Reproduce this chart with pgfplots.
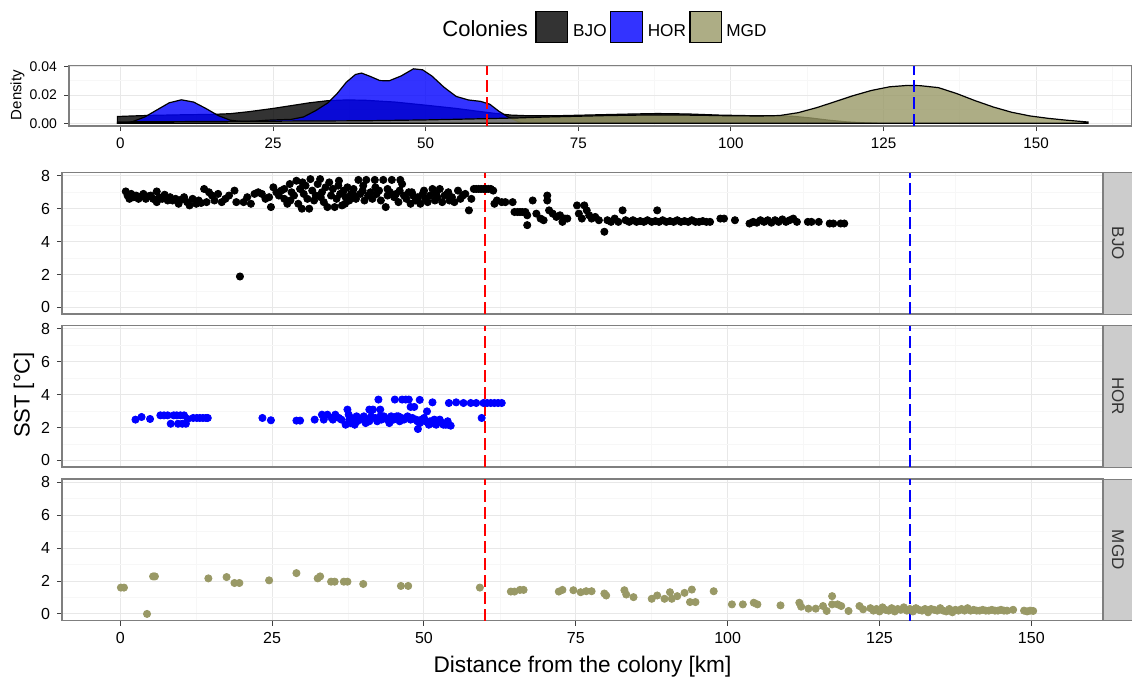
\documentclass[border=0pt]{standalone}
\usepackage{fontspec}
\setmainfont{Liberation Sans}
\usepackage{pgfplots}
\pgfplotsset{compat=1.18}
\definecolor{mgd}{RGB}{153,153,102}
\definecolor{gridmaj}{RGB}{232,232,232}
\definecolor{gridmin}{RGB}{247,247,247}
\definecolor{frame}{RGB}{127,127,127}
\definecolor{stripc}{RGB}{204,204,204}
\pgfplotsset{
  base/.style={
    scale only axis, anchor=south west,
    grid=both,
    major grid style={gridmaj, line width=0.5pt},
    minor grid style={gridmin, line width=0.4pt},
    axis line style={frame, line width=0.6pt},
    tick style={black!75, line width=0.5pt},
    tick align=outside, major tick length=2.5pt, minor tick length=0pt,
    tick pos=left,
    /pgf/number format/assume math mode=true,
  },
  facet/.style={
    base, width=520.5pt, height=70.75pt,
    xmin=-9.6, xmax=161.8, ymin=-0.4, ymax=8.2,
    xtick={0,25,...,150}, minor xtick={12.5,37.5,...,162.5},
    ytick={0,2,4,6,8}, minor ytick={1,3,5,7},
    yticklabel style={font=\fontsize{8}{9}\selectfont},
    xticklabel style={font=\fontsize{8}{9}\selectfont},
  },
  pts/.style={only marks, mark=*, mark size=1.8pt, mark options={draw=#1, fill=#1}},
  vred/.style={red, line width=0.9pt, dash pattern=on 6pt off 2.5pt},
  vblue/.style={blue, line width=0.9pt, dash pattern=on 6pt off 2.5pt},
  dens/.style={draw=black, line width=0.6pt, fill=#1, fill opacity=0.8},
}
\begin{document}
\begin{tikzpicture}
\path[use as bounding box] (0,0) rectangle (566pt,338.5pt);

% ---------------- density panel ----------------
\begin{axis}[base, at={(34.5pt,275.5pt)}, width=531.5pt, height=30.15pt,
  xmin=-8.42, xmax=165.7, ymin=-0.0019, ymax=0.0407,
  xtick={0,25,...,150}, minor xtick={12.5,37.5,...,162.5},
  ytick={0,0.02,0.04}, yticklabels={0.00,0.02,0.04}, minor ytick={0.01,0.03},
  scaled y ticks=false,
  yticklabel style={font=\fontsize{7}{8}\selectfont},
  xticklabel style={font=\fontsize{7.6}{9}\selectfont},
]
\addplot[dens=black] coordinates {(-0.5,0) (-0.5,0.0048) (2,0.0052) (5,0.0056) (10,0.006) (15,0.0063) (18,0.0068) (21,0.0082) (25,0.0105) (28,0.0125) (31,0.0145) (34,0.016) (37,0.0165) (40,0.0163) (45,0.015) (50,0.0128) (55,0.0105) (58,0.0088) (61,0.0072) (64,0.0058) (67,0.0053) (72,0.0054) (78,0.006) (84,0.0066) (88,0.0069) (93,0.0066) (98,0.0058) (103,0.0054) (107,0.0054) (110,0.005) (113,0.0038) (116,0.0022) (119,0.001) (122,0.0003) (124,0)} -- cycle;
\addplot[dens=blue] coordinates {(0.5,0) (2,0.0012) (4,0.0045) (6,0.0095) (8,0.0145) (10,0.0166) (12,0.015) (14,0.0105) (16,0.0055) (18,0.0022) (20,0.0012) (22,0.0015) (24,0.0022) (26,0.0025) (28,0.0028) (30,0.0045) (32,0.009) (34,0.0145) (35.5,0.021) (37,0.029) (38.5,0.0345) (39.5,0.0355) (41,0.033) (42.5,0.0302) (44,0.0300) (46,0.0335) (48,0.0385) (49.5,0.0378) (51,0.0335) (53,0.0255) (55,0.019) (57,0.0165) (59,0.0155) (60.5,0.0135) (62,0.0085) (63.5,0.0045) (65,0.0015) (66,0)} -- cycle;
\addplot[dens=mgd] coordinates {(-0.5,0) (-0.5,0.0008) (0,0.001) (10,0.0012) (20,0.0014) (30,0.0016) (40,0.0018) (50,0.0024) (60,0.0033) (65,0.0038) (70,0.0045) (75,0.005) (80,0.0055) (85,0.0058) (90,0.0059) (95,0.0057) (100,0.0053) (105,0.0052) (108,0.0055) (111,0.0075) (114,0.011) (117,0.0152) (120,0.0195) (123,0.0232) (126,0.0258) (129,0.0268) (131,0.0266) (134,0.0252) (137,0.021) (140,0.016) (143,0.0115) (146,0.0078) (149,0.0052) (152,0.0035) (155,0.0022) (158.5,0.0009) (158.5,0)} -- cycle;
\addplot[vred] coordinates {(60,-0.0019) (60,0.0407)};
\addplot[vblue] coordinates {(130,-0.0019) (130,0.0407)};
\end{axis}

% ---------------- BJO ----------------
\begin{axis}[facet, at={(31pt,181.5pt)}, xticklabels={}, xtick style={draw=none}]
\addplot[pts=black] coordinates {
(0.9,7.05) (1.2,6.8) (1.5,6.6) (1.8,6.9) (2.2,6.7) (2.6,6.8) (3.0,6.6) (3.4,6.75) (3.8,6.9) (4.2,6.6) (4.6,6.75) (5.0,6.8) (5.4,6.6) (6.0,7.05) (6.0,6.4) (6.4,6.7) (6.9,6.6) (7.3,6.85) (7.8,6.5) (8.2,6.7) (8.6,6.5) (9.1,6.6) (9.6,6.3) (10.0,6.55) (10.5,6.7) (11.0,6.4) (11.4,6.2) (11.9,6.6) (12.5,6.3) (12.9,6.5) (13.3,6.35) (13.8,7.2) (14.2,6.4) (14.6,7.0) (15.1,6.8) (15.5,6.5) (16.1,6.9) (16.7,6.4) (17.3,6.6) (17.9,6.8) (18.8,7.1) (19.1,6.4) (19.7,1.88) (20.3,6.4) (20.9,6.7) (21.5,6.3) (22.1,6.9) (22.7,7.0) (23.3,6.9) (23.9,6.6) (24.5,6.7) (24.8,6.1)
(25.2,7.3) (25.7,7.0) (26.1,6.8) (26.5,7.1) (27.0,6.6) (27.5,6.3) (27.9,7.5) (28.2,7.0) (28.6,6.8) (29.0,7.7) (29.3,6.3) (29.6,7.2) (29.9,6.0) (30.2,6.9) (30.5,7.4) (30.8,6.6) (31.1,6.0) (31.3,7.8) (31.6,7.1) (31.9,6.5) (32.2,6.8) (32.5,7.5) (32.9,7.8) (33.2,7.0) (33.5,6.4) (33.8,7.3) (34.1,6.1) (34.4,7.6) (34.7,6.8) (35.0,7.2) (35.3,6.1) (35.6,6.6) (35.9,7.4) (36.2,6.9) (36.5,6.2) (36.8,7.1) (37.1,6.7) (37.4,7.3) (37.7,6.5) (38.0,6.9) (38.4,7.2) (38.8,6.6) (39.2,7.75) (39.5,6.9) (39.9,7.1) (40.2,6.5) (40.5,7.75) (40.8,6.8) (41.2,7.0) (41.5,6.6) (41.9,7.75) (42.2,6.9) (42.6,7.1) (42.9,6.5) (43.3,7.75) (43.7,6.1) (44.0,6.8) (44.4,7.0) (44.7,7.75) (45.1,6.7) (45.4,6.9) (45.8,6.4) (46.1,7.75) (46.4,7.5) (46.7,6.8) (47.1,6.6) (47.5,7.0) (47.8,6.3) (48.2,6.8) (48.6,6.5) (49.0,6.7) (49.4,6.3) (49.8,6.9) (50.2,6.6) (50.6,6.4) (51.0,6.8) (51.4,7.2) (51.8,6.5) (52.2,6.7) (52.6,7.2) (53.0,6.4) (53.4,6.8) (53.8,6.9) (54.2,6.5) (54.6,6.7) (55.0,6.4) (55.6,7.1) (56.0,6.6) (56.4,6.8) (56.8,6.9) (57.4,5.9) (57.8,6.6)
(27.0,7.2) (28.0,6.5) (30.0,7.6) (33.0,6.7) (36.0,7.7) (37.0,6.3) (38.5,6.8) (40.0,7.4) (42.0,7.3) (44.0,7.2) (46.0,7.1) (48.0,7.0) (50.0,7.1) (52.0,6.9) (54.0,7.0)
(58.2,7.2) (58.6,7.2) (59.0,7.2) (59.4,7.2) (59.8,7.2) (60.2,7.2) (60.6,7.2) (61.0,7.2) (61.4,7.1) (61.6,6.3) (62.0,6.5) (62.8,6.4) (63.4,6.4) (64.6,6.4) (64.9,5.8) (65.4,5.8) (65.8,5.8) (66.2,5.8) (66.7,5.8) (67.0,5.6) (67.0,5.0) (67.9,6.5) (68.5,5.7) (69.2,5.4) (69.7,5.3) (70.3,6.5) (70.3,6.8) (70.6,5.9) (71.2,5.7) (71.8,5.5) (72.4,5.6) (72.8,5.2) (73.2,5.4) (73.6,5.4)
(75.2,6.2) (76.4,6.2) (75.5,5.7) (76.0,5.4) (76.8,5.9) (77.2,5.6) (77.6,5.4) (78.2,5.5) (78.8,5.3) (79.7,4.6) (80.2,5.3) (80.8,5.2) (81.4,5.4) (82.0,5.2) (82.7,5.9) (83.2,5.3) (83.8,5.2) (84.4,5.3) (85.0,5.2) (85.6,5.25) (86.2,5.2) (86.8,5.3) (87.5,5.2) (88.1,5.25) (88.4,5.9) (88.7,5.2) (89.3,5.3) (89.9,5.2) (90.5,5.25) (91.1,5.2) (91.7,5.3) (92.3,5.2) (92.9,5.25) (93.5,5.2) (94.1,5.3) (94.7,5.2) (95.3,5.2) (95.9,5.25) (96.5,5.2) (97.1,5.2) (98.8,5.4) (99.4,5.4) (101.2,5.3) (103.6,5.1) (104.2,5.2) (104.8,5.15) (105.4,5.3) (106.0,5.2) (106.6,5.3) (107.2,5.15) (107.8,5.3) (108.4,5.2) (109.0,5.35) (109.6,5.2) (110.2,5.3) (110.8,5.4) (111.4,5.2) (113.2,5.2) (113.8,5.2) (115.0,5.2) (116.8,5.1) (117.4,5.1) (118.6,5.1) (119.2,5.1)
};
\addplot[vred] coordinates {(60,-0.4) (60,8.2)};
\addplot[vblue] coordinates {(130,-0.4) (130,8.2)};
\end{axis}

% ---------------- HOR ----------------
\begin{axis}[facet, at={(31pt,105pt)}, xticklabels={}, xtick style={draw=none}]
\addplot[pts=blue] coordinates {
(2.5,2.48) (3.5,2.64) (4.9,2.52) (6.6,2.74) (7.2,2.74) (7.8,2.74) (8.3,2.23) (8.8,2.74) (9.3,2.74) (9.9,2.74) (10.5,2.74) (9.5,2.23) (10.2,2.23) (10.8,2.23) (11.1,2.52) (12.0,2.58) (12.6,2.58) (13.1,2.58) (13.6,2.58) (14.1,2.58) (14.4,2.58)
(23.4,2.58) (24.8,2.44)
(29.0,2.42) (29.6,2.42) (32.0,2.48) (33.2,2.78) (33.5,2.48) (34.1,2.78) (35.4,2.78) (36.4,2.48) (37.4,3.09) (37.6,2.78) (37.7,2.48) (37.1,2.17) (38.0,2.58) (38.6,2.17) (38.9,2.68) (39.5,2.48) (40.1,2.68) (40.4,2.27) (41.0,2.38) (41.0,3.09) (41.6,3.09) (42.5,3.7) (42.8,3.09) (42.8,2.68) (43.4,2.68) (44.0,2.48) (44.6,2.68) (45.2,3.7) (45.5,2.68) (45.8,2.68) (46.4,3.7) (46.7,2.48) (47.0,3.7) (47.3,2.68) (47.5,3.7) (47.8,3.25) (47.8,2.48) (48.4,3.25) (48.7,2.48) (49.0,1.91) (49.3,3.68) (49.6,2.48) (50.2,2.38) (50.5,2.98) (50.8,2.17) (51.4,3.53) (51.7,2.48) (52.0,2.17) (52.6,2.48) (53.2,2.17) (54.1,3.49) (54.4,2.11) (55.3,3.53) (56.5,3.49) (57.7,3.49) (58.6,3.49) (59.5,2.58) (59.8,3.49) (60.4,3.49) (61.0,3.49) (61.6,3.49) (62.2,3.49) (62.8,3.49)
(39.0,2.38) (39.8,2.58) (40.7,2.48) (41.3,2.68) (42.0,2.58) (42.3,2.38) (43.0,2.48) (43.7,2.58) (44.3,2.27) (45.0,2.48) (46.0,2.38) (46.3,2.58) (47.0,2.58) (48.1,2.58) (48.9,2.38) (49.3,2.27) (50.0,2.58) (51.0,2.38) (51.3,2.27) (52.3,2.38) (53.0,2.27) (53.6,2.17) (53.9,2.38) (54.0,2.17) (36.0,2.58) (35.0,2.48) (34.8,2.58) (38.3,2.38) (37.9,2.27)
};
\addplot[vred] coordinates {(60,-0.4) (60,8.2)};
\addplot[vblue] coordinates {(130,-0.4) (130,8.2)};
\end{axis}

% ---------------- MGD ----------------
\begin{axis}[facet, at={(31pt,28.25pt)}]
\addplot[pts=mgd] coordinates {
(0.1,1.6) (0.6,1.6) (4.4,0.0) (5.4,2.28) (5.7,2.28) (14.5,2.16) (17.5,2.24) (18.8,1.88) (19.6,1.88) (24.5,2.04) (29.0,2.48) (32.5,2.16) (32.9,2.28) (34.7,1.96) (35.3,1.96) (36.8,1.96) (37.4,1.96) (40.0,1.82) (46.2,1.7) (47.4,1.7) (59.2,1.6) (64.3,1.36) (64.9,1.36) (65.8,1.46) (66.4,1.46) (72.2,1.36) (72.8,1.46)
(74.6,1.44) (75.8,1.32) (76.7,1.38) (77.6,1.38) (79.7,1.24) (80.0,1.12) (83.0,1.44) (83.3,1.18) (84.5,1.02) (87.5,0.92) (88.4,1.12) (89.6,0.92) (90.5,1.32) (90.8,0.92) (91.7,1.08) (92.9,1.28) (93.8,0.72) (94.1,1.48) (94.7,0.72) (97.7,1.38) (100.7,0.58) (102.5,0.58) (104.3,0.68) (104.9,0.58) (108.7,0.52) (111.8,0.68) (112.1,0.44) (113.3,0.32) (114.5,0.32) (115.7,0.48) (116.3,0.18) (117.2,1.08) (117.2,0.58) (118.1,0.58) (118.7,0.48) (119.9,0.18) (121.7,0.48) (122.3,0.28)
(123.5,0.35) (124,0.2) (124.5,0.3) (125,0.15) (125.5,0.4) (126,0.25) (126.5,0.2) (127,0.35) (127.5,0.15) (128,0.3) (128.5,0.25) (129,0.4) (129.5,0.2) (130,0.3) (130.5,0.15) (131,0.35) (131.5,0.25) (132,0.2) (132.5,0.3) (133,0.1) (133.5,0.3) (134,0.25) (134.5,0.2) (135,0.35) (135.5,0.2) (136,0.15) (136.5,0.3) (137,0.1) (137.5,0.25) (138,0.2) (138.5,0.3) (139,0.2) (139.5,0.35) (140,0.2) (140.5,0.25) (141,0.2) (141.5,0.2) (142,0.25) (142.5,0.2) (143,0.2) (143.5,0.25) (144,0.2) (144.5,0.2) (145,0.25) (145.5,0.2) (146,0.2) (147,0.25) (148.8,0.2) (149.3,0.15) (149.8,0.2) (150.3,0.18)
};
\addplot[vred] coordinates {(60,-0.4) (60,8.2)};
\addplot[vblue] coordinates {(130,-0.4) (130,8.2)};
\end{axis}

% ---------------- strips ----------------
\foreach \yb/\lab in {181.5/BJO, 105/HOR, 28.25/MGD}{
  \draw[frame, line width=0.5pt, fill=stripc] (551.7pt,\yb pt) rectangle (566pt,\yb pt+70.75pt);
  \node[rotate=-90, font=\fontsize{8.5}{10}\selectfont, text=black!80] at (559pt,\yb pt+35.4pt) {\lab};
}

% ---------------- labels ----------------
\node[anchor=base, font=\fontsize{11.3}{13}\selectfont, inner sep=0] at (291.25pt,2.2pt) {Distance from the colony [km]};
\node[rotate=90, font=\fontsize{11}{13}\selectfont] at (12pt,141pt) {SST [°C]};
\node[rotate=90, font=\fontsize{7.5}{9}\selectfont] at (8.75pt,291pt) {Density};

% ---------------- legend ----------------
\node[anchor=base east, inner sep=0, font=\fontsize{11}{13}\selectfont] at (264.2pt,320.5pt) {Colonies};
\draw[black, line width=0.6pt, fill=black, fill opacity=0.8] (268pt,317.2pt) rectangle (283.6pt,332.7pt);
\draw[black, line width=0.6pt, fill=blue, fill opacity=0.8] (305.4pt,317.2pt) rectangle (321.1pt,332.7pt);
\draw[black, line width=0.6pt, fill=mgd, fill opacity=0.8] (345pt,317.2pt) rectangle (360.8pt,332.7pt);
\node[anchor=base west, inner sep=0, font=\fontsize{8.6}{10}\selectfont] at (286.4pt,320.5pt) {BJO};
\node[anchor=base west, inner sep=0, font=\fontsize{8.6}{10}\selectfont] at (323.7pt,320.5pt) {HOR};
\node[anchor=base west, inner sep=0, font=\fontsize{8.6}{10}\selectfont] at (363pt,320.5pt) {MGD};
\end{tikzpicture}
\end{document}
